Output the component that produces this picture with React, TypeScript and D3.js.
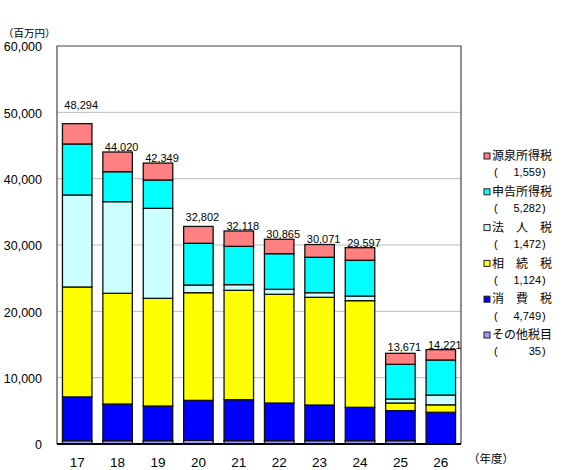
import React from "react";
import * as d3 from "d3";

const years = ["17", "18", "19", "20", "21", "22", "23", "24", "25", "26"];
const totals = [48294, 44020, 42349, 32802, 32118, 30865, 30071, 29597, 13671, 14221];
const otherTax = [500, 500, 500, 550, 500, 500, 500, 500, 500, 35];
const consumptionTax = [6600, 5530, 5230, 6030, 6180, 5680, 5380, 5030, 4530, 4749];
const inheritanceTax = [16570, 16690, 16230, 16230, 16490, 16390, 16230, 16080, 1150, 1124];
const corporateTax = [13870, 13810, 13570, 1160, 850, 750, 700, 700, 600, 1472];
const declaredIncomeTax = [7690, 4520, 4270, 6290, 5780, 5370, 5340, 5390, 5230, 5282];
const withholdingTax = [3064, 2970, 2549, 2542, 2318, 2175, 1921, 1897, 1661, 1559];
const yTicks = [0, 10000, 20000, 30000, 40000, 50000, 60000];

const seriesNames = ["その他税目", "消　費　税", "相　続　税", "法　人　税", "申告所得税", "源泉所得税"];
const seriesValues = [otherTax, consumptionTax, inheritanceTax, corporateTax, declaredIncomeTax, withholdingTax];
const seriesColors = ["#9999FF", "#0000FF", "#FFFF00", "#CCFFFF", "#00FFFF", "#FF8080"];
const labelDy = [-18, -5, -5, -9, -5, -5, -5, -5, -6, -5];

const M = { left: 57, top: 46, right: 461, bottom: 444 };
const fmt = d3.format(",");

export default function App() {
  const x = d3.scaleBand<string>().domain(years).range([M.left, M.right]).paddingInner(0.27).paddingOuter(0.135);
  const y = d3.scaleLinear().domain([0, 60000]).range([M.bottom, M.top]);

  const rows = years.map((yr, i) => {
    const r: any = { year: yr };
    seriesNames.forEach((n, k) => (r[n] = seriesValues[k][i]));
    return r;
  });
  const stacked = d3.stack<any>().keys(seriesNames)(rows);
  const font = "'Liberation Sans', Arial, 'Noto Sans CJK JP', sans-serif";
  const jfont = "'Noto Sans CJK JP', sans-serif";
  const legendOrder = [5, 4, 3, 2, 1, 0];

  return (
    <svg width={580} height={470} style={{ position: "absolute", left: 0, top: 0, background: "#fff" }}>
      <rect x={0} y={0} width={580} height={470} fill="#fff" />
      {yTicks.slice(1, -1).map((t) => (
        <line key={t} x1={M.left} x2={M.right} y1={y(t)} y2={y(t)} stroke="#BBBBBB" strokeWidth={1} />
      ))}
      {stacked.map((s, k) => (
        <g key={k}>
          {s.map((d, i) => (
            <rect
              key={i}
              x={x(years[i])!}
              y={y(d[1])}
              width={x.bandwidth()}
              height={y(d[0]) - y(d[1])}
              fill={seriesColors[k]}
              stroke="#111"
              strokeWidth={1.3}
            />
          ))}
        </g>
      ))}
      <path
        d={`M${M.left},${M.bottom} V${M.top} H${M.right} V${M.bottom}`}
        fill="none"
        stroke="#444"
        strokeWidth={1.2}
      />
      <line x1={M.left} x2={M.right} y1={M.bottom} y2={M.bottom} stroke="#000" strokeWidth={2} />
      {yTicks.map((t) => (
        <text key={t} x={42} y={y(t) + 1} dy="0.35em" textAnchor="end" fontFamily={font} fontSize={12.5} fill="#000">
          {fmt(t)}
        </text>
      ))}
      <text x={3} y={33} dy="0.35em" fontFamily={jfont} fontSize={10.5} fill="#000">（百万円）</text>
      {years.map((yr) => (
        <text key={yr} x={x(yr)! + x.bandwidth() / 2} y={462} dy="0.35em" textAnchor="middle" fontFamily={font} fontSize={13.5} fill="#000">
          {yr}
        </text>
      ))}
      <text x={468} y={459} dy="0.35em" fontFamily={jfont} fontSize={11.5} fill="#000">（年度）</text>
      {years.map((yr, i) => (
        <text key={yr} x={x(yr)! + x.bandwidth() / 2 + 4} y={y(totals[i]) + labelDy[i]} dy="0.35em" textAnchor="middle" fontFamily={font} fontSize={11} fill="#000">
          {fmt(totals[i])}
        </text>
      ))}
      {legendOrder.map((k, j) => {
        const ly = 156 + j * 35.8;
        const last = seriesValues[k][years.length - 1];
        return (
          <g key={k}>
            <rect x={484} y={ly - 3} width={6} height={6} fill={seriesColors[k]} stroke="#222" strokeWidth={1} />
            <text x={492} y={ly} dy="0.35em" fontFamily={jfont} fontSize={12} fill="#000">{seriesNames[k]}</text>
            <text x={494} y={ly + 16.5} dy="0.35em" fontFamily={font} fontSize={11} fill="#000">(</text>
            <text x={541} y={ly + 16.5} dy="0.35em" textAnchor="end" fontFamily={font} fontSize={11} fill="#000">{fmt(last)}</text>
            <text x={542} y={ly + 16.5} dy="0.35em" fontFamily={font} fontSize={11} fill="#000">)</text>
          </g>
        );
      })}
    </svg>
  );
}
